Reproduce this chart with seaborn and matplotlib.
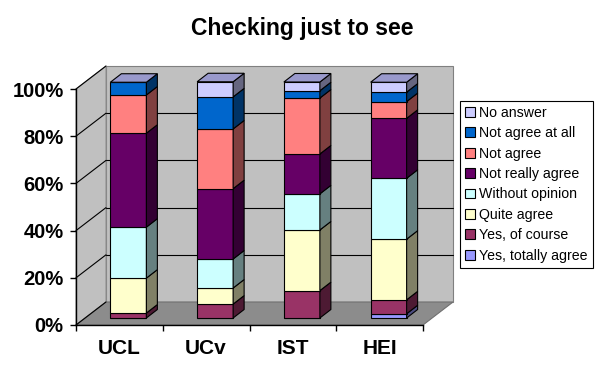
import numpy as np
import pandas as pd
import matplotlib.pyplot as plt
from matplotlib.patches import Polygon, Patch, Rectangle
import seaborn as sns

# Data (percent of answers per school, bottom to top of each stack)
schools = ["UCL", "UCv", "IST", "HEI"]
answers = ["Yes, totally agree", "Yes, of course", "Quite agree", "Without opinion",
           "Not really agree", "Not agree", "Not agree at all", "No answer"]
totally_agree = [0.0, 0.0, 0.0, 1.8]
of_course = [2.1, 5.9, 11.6, 5.9]
quite_agree = [14.8, 6.8, 25.7, 25.7]
without_opinion = [21.6, 12.3, 15.3, 25.8]
not_really_agree = [39.8, 29.8, 16.9, 25.4]
not_agree = [16.2, 25.3, 23.7, 7.1]
not_agree_at_all = [5.4, 13.6, 3.1, 4.0]
no_answer = [0.0, 6.4, 3.7, 4.2]
y_ticks = [0, 20, 40, 60, 80, 100]

colors = ["#9999FF", "#993366", "#FFFFCC", "#CCFFFF",
          "#660066", "#FF8080", "#0066CC", "#CCCCFF"]

table = pd.DataFrame(
    [totally_agree, of_course, quite_agree, without_opinion,
     not_really_agree, not_agree, not_agree_at_all, no_answer],
    index=answers, columns=schools,
)

# Set-up
# --------------
sns.set_theme(style="white")
plt.rcParams["font.family"] = ["Liberation Sans", "DejaVu Sans"]
plt.rcParams["text.color"] = "black"
plt.rcParams["xtick.color"] = "black"
plt.rcParams["ytick.color"] = "black"
plt.rcParams["xtick.labelcolor"] = "black"
plt.rcParams["ytick.labelcolor"] = "black"

figure = plt.figure(figsize=(6.05, 3.76), dpi=100)
# axes = the front plane of the 3D box (pixels 76..423 x 89..325)
ax = figure.add_axes([76 / 605, 1 - 325 / 376, 347 / 605, 236 / 376])
ax.set_xlim(0, len(schools))
ax.set_ylim(0, 100)
ax.patch.set_visible(False)

# pixel -> data scale
sx = len(schools) / 347
sy = 100 / 236
dx, dy = 30 * sx, 23 * sy          # depth of the box
bx, by = 9 * sx, 7 * sy            # bar front face offset
bdx, bdy = 11 * sx, 8.5 * sy       # bar depth
bw = 36 * sx                       # bar width

wall = "#C0C0C0"
floor = "#8C8C8C"

# walls and floor
ax.add_patch(Rectangle((dx, dy), len(schools), 100, facecolor=wall,
                       edgecolor="#808080", lw=0.8, clip_on=False, zorder=0))
ax.add_patch(Polygon([(0, 0), (0, 100), (dx, 100 + dy), (dx, dy)], closed=True,
                     facecolor=wall, edgecolor="#909090", lw=0.8, clip_on=False, zorder=0))
ax.add_patch(Polygon([(0, 0), (len(schools), 0), (len(schools) + dx, dy), (dx, dy)],
                     closed=True, facecolor=floor, edgecolor="#707070", lw=0.8,
                     clip_on=False, zorder=0.5))
for t in y_ticks[1:-1]:
    ax.plot([dx, len(schools) + dx], [t + dy, t + dy], color="black", lw=0.8,
            clip_on=False, zorder=0.6)
for t in y_ticks:
    ax.plot([0, dx], [t, t + dy], color="black", lw=0.8, clip_on=False, zorder=0.6)

# Plotting
# --------------
def shade(c, f):
    r, g, b = plt.matplotlib.colors.to_rgb(c)
    return (r * f, g * f, b * f)

bottom = np.zeros(len(schools))
x0 = np.arange(len(schools)) + 0.5 - bw / 2 + bx
for answer, color in zip(answers, colors):
    vals = table.loc[answer].values
    ax.bar(x0, vals, bottom=bottom + by, width=bw, align="edge", color=color,
           edgecolor="black", lw=0.8, clip_on=False, zorder=2)
    for xl, b, h in zip(x0, bottom + by, vals):
        if h <= 0:
            continue
        xr = xl + bw
        ax.add_patch(Polygon([(xr, b), (xr, b + h), (xr + bdx, b + h + bdy), (xr + bdx, b + bdy)],
                             closed=True, facecolor=shade(color, 0.5), edgecolor="black",
                             lw=0.8, clip_on=False, zorder=2))
    bottom = bottom + vals

for xl, top in zip(x0, bottom + by):
    ax.add_patch(Polygon([(xl, top), (xl + bw, top), (xl + bw + bdx, top + bdy), (xl + bdx, top + bdy)],
                         closed=True, facecolor="#9999CC", edgecolor="black", lw=0.8,
                         clip_on=False, zorder=2))

# axes styling
for side in ["top", "right"]:
    ax.spines[side].set_visible(False)
for side in ["left", "bottom"]:
    ax.spines[side].set_color("black")
    ax.spines[side].set_linewidth(1.0)
    ax.spines[side].set_zorder(3)

ax.set_yticks(y_ticks)
ax.set_yticklabels([f"{t}%" for t in y_ticks], fontsize=14.5, fontweight="heavy")
ax.set_xticks(np.arange(len(schools)) + 0.5)
ax.set_xticklabels(schools, fontsize=15, fontweight="heavy")
ax.set_xticks(np.arange(len(schools) + 1), minor=True)
ax.tick_params(axis="y", direction="out", length=4, width=1, color="black", pad=5,
               left=True)
ax.tick_params(axis="x", which="major", length=0, pad=10)
ax.tick_params(axis="x", which="minor", direction="out", length=4, width=1,
               color="black", bottom=True)

figure.text(302 / 605, 1 - 29 / 376, "Checking just to see", ha="center", va="center",
            fontsize=16.5, fontweight="heavy", color="black")

handles = [Patch(facecolor=c, edgecolor="black", lw=0.8) for c in colors]
leg = figure.legend(handles[::-1], answers[::-1], loc="upper left",
                    bbox_to_anchor=(460 / 605, 1 - 101 / 376), fontsize=10.2,
                    frameon=True, fancybox=False, edgecolor="black", framealpha=1,
                    handlelength=0.7, handleheight=0.7, handletextpad=0.3,
                    borderpad=0.35, labelspacing=0.45, borderaxespad=0,
                    labelcolor="black")
leg.get_frame().set_linewidth(0.8)

# Rendering
# --------------
figure.savefig("out.png", dpi=100)
